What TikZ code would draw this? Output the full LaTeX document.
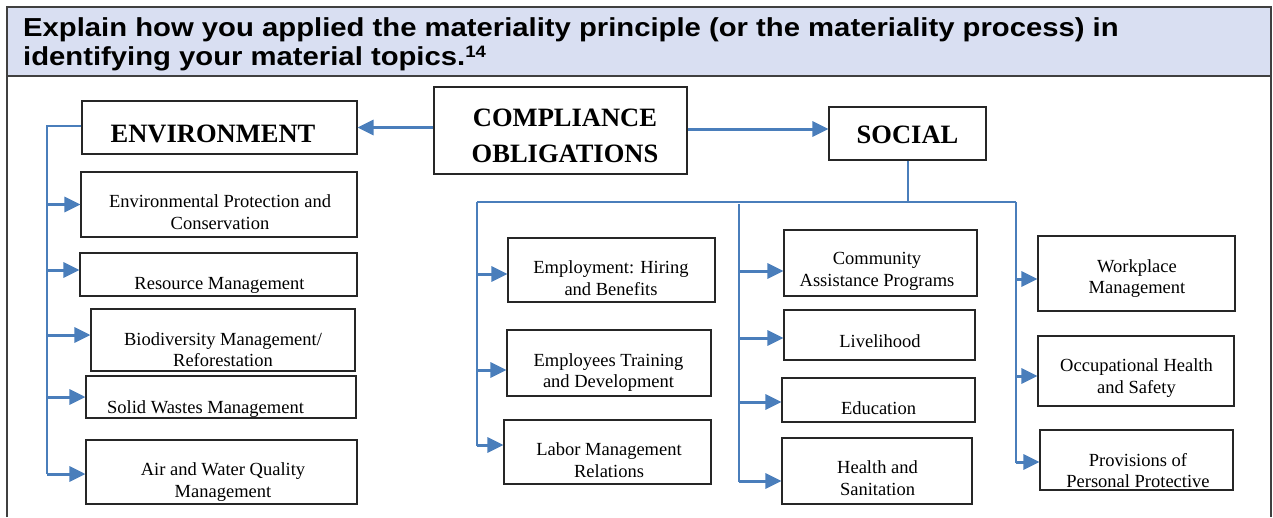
\documentclass[tikz,border=0pt]{standalone}
\usepackage{fontspec}
\setmainfont{Liberation Serif}
\newfontfamily\hdrfont[FakeStretch=1.125]{Liberation Sans}
\usetikzlibrary{arrows.meta,calc}
\definecolor{cblue}{HTML}{4A7EBB}
\definecolor{hdrbg}{HTML}{D9DFF2}
\tikzset{
  box/.style={draw=black!85, line width=1.1pt, inner sep=0pt},
  txt/.style={font=\fontsize{18.5}{21.5}\selectfont, align=center, inner sep=0pt},
  ttl/.style={font=\fontsize{26.5}{35.6}\selectfont\bfseries, align=center, inner sep=0pt},
  arr/.style={draw=cblue, line width=3pt, -{Triangle[length=16pt,width=15pt]}},
  trunk/.style={draw=cblue, line width=2pt},
  frame/.style={draw=black!75, line width=1.5pt},
}
\newcommand\topic[9]{%
  \node[box, minimum width=#5pt, minimum height=#6pt] (#2) at (#3,#4) {};
  \node[#1] (#2t) at (#7,#8) {#9};}
\newcommand\br[3]{\draw[arr] ($(#1 |- #2.west)+(0,#3)$) -- ($(#2.west)+(0,#3)$);}
\begin{document}
\begin{tikzpicture}[x=1pt,y=-1pt]
\useasboundingbox (0,0) rectangle (1273,517);
% frame and header
\fill[hdrbg] (7,7) rectangle (1271,76);
\draw[frame] (7,517) -- (7,7) -- (1271,7) -- (1271,517);
\draw[frame] (7,76) -- (1271,76);
\node[anchor=north west, inner sep=0pt, align=left,
      font=\hdrfont\bfseries\fontsize{26}{29}\selectfont] (hdr) at (23,17)
  {Explain how you applied the materiality principle (or the materiality process) in\\
   identifying your material topics.\raisebox{8pt}{\fontsize{16.5}{16.5}\selectfont 14}};
% boxes
\topic{ttl}{env}{219.5}{127.5}{275}{53}{213}{133.5}{ENVIRONMENT}
\topic{ttl}{comp}{560.5}{130.5}{253}{87}{565}{135.7}{COMPLIANCE\\OBLIGATIONS}
\topic{ttl}{soc}{907.5}{133.5}{157}{53}{907.5}{134.5}{SOCIAL}
\topic{txt}{e1}{219}{204.5}{276}{65}{220}{212.4}{Environmental Protection and\\Conservation}
\topic{txt}{e2}{218.5}{274.5}{277}{43}{219.5}{285}{Resource Management}
\topic{txt}{e3}{223}{340}{264}{62}{223}{349.5}{Biodiversity Management/\\Reforestation}
\topic{txt}{e4}{221}{397}{270}{42}{205.5}{408.7}{Solid Wastes Management}
\topic{txt}{e5}{221.5}{472}{271}{64}{223}{482.3}{Air and Water Quality\\Management}
\topic{txt}{s1}{611.5}{270}{207}{64}{611}{278.3}{Employment: Hiring\\and Benefits}
\topic{txt}{s2}{609}{363}{204}{66}{608.5}{372.3}{Employees Training\\and Development}
\topic{txt}{s3}{607.5}{452}{207}{64}{609}{460.1}{Labor Management\\Relations}
\topic{txt}{c1}{880.5}{263}{193}{66}{877}{271.5}{Community\\Assistance Programs}
\topic{txt}{c2}{879.5}{335}{191}{50}{880}{340.7}{Livelihood}
\topic{txt}{c3}{878.5}{400}{193}{44}{878.5}{407.7}{Education}
\topic{txt}{c4}{877}{471}{190}{66}{877.5}{478.3}{Health and\\Sanitation}
\topic{txt}{w1}{1136.5}{273.5}{197}{75}{1137}{278.4}{Workplace\\Management}
\topic{txt}{w2}{1136}{371}{196}{70}{1136.5}{378.1}{Occupational Health\\and Safety}
\topic{txt}{w3}{1136.5}{460}{193}{60}{1138}{470.6}{Provisions of\\Personal Protective}
% top arrows
\draw[arr] (comp.west |- env.east) -- (env.east);
\draw[arr] ($(comp.east |- soc.west)+(0,-4.5)$) -- ($(soc.west)+(0,-4.5)$);
% environment trunk
\coordinate (ej) at (47,126);
\coordinate (eb) at (47,474);
\draw[trunk] ($(env.west)+(0,-1.5)$) -- (ej) -- (eb);
\br{eb}{e1}{0}
\br{eb}{e2}{-4.5}
\br{eb}{e3}{-5}
\br{eb}{e4}{0}
\br{eb}{e5}{2}
% social trunk
\coordinate (bl) at (477,202);
\coordinate (br) at (1016,202);
\coordinate (k1) at (477,446);
\coordinate (k2t) at (739,204);
\coordinate (k2) at (739,482);
\coordinate (k3) at (1016,463);
\draw[trunk] (soc.south) -- (soc.south |- bl);
\draw[trunk] (bl) -- (br);
\draw[trunk] (bl) -- (k1);
\draw[trunk] (k2t) -- (k2);
\draw[trunk] (br) -- (k3);
\br{k1}{s1}{4}
\br{k1}{s2}{7}
\br{k1}{s3}{-7}
\br{k2}{c1}{8}
\br{k2}{c2}{3}
\br{k2}{c3}{2}
\br{k2}{c4}{10}
\br{k3}{w1}{5.5}
\br{k3}{w2}{5}
\br{k3}{w3}{2}
\end{tikzpicture}
\end{document}
